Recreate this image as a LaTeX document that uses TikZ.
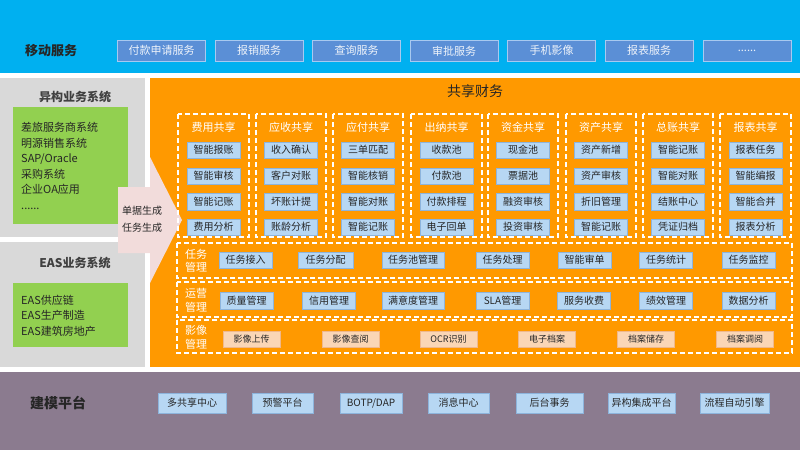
\documentclass[tikz,border=0pt]{standalone}
\usepackage{fontspec}
\setmainfont{Noto Sans CJK SC}
\definecolor{topblue}{HTML}{00B0F0}
\definecolor{svcblue}{HTML}{5B8FD6}
\definecolor{svcline}{HTML}{A8C9F0}
\definecolor{svctext}{HTML}{EEF3FA}
\definecolor{graybg}{HTML}{D9D9D9}
\definecolor{greenbg}{HTML}{92D050}
\definecolor{orangebg}{HTML}{FF9900}
\definecolor{pinkarrow}{HTML}{F2DCDB}
\definecolor{itemblue}{HTML}{B7D7F3}
\definecolor{itemline}{HTML}{8DB4DC}
\definecolor{peach}{HTML}{FAD6B6}
\definecolor{peachline}{HTML}{F0B88C}
\definecolor{purplebg}{HTML}{8B7B8F}
\definecolor{darktext}{HTML}{262626}
\begin{document}
\begin{tikzpicture}[x=1pt,y=-1pt,
   svc/.style={draw=svcline,fill=svcblue,text=svctext,line width=0.8pt,minimum width=88pt,minimum height=20.5pt,inner sep=1pt,font=\fontsize{11}{13}\selectfont},
   item/.style={draw=itemline,fill=itemblue,text=darktext,line width=0.4pt,minimum width=53pt,minimum height=16.5pt,inner sep=1pt,font=\fontsize{10}{12}\selectfont},
   img/.style={item,draw=peachline,fill=peach,minimum width=57pt,font=\fontsize{9}{11}\selectfont},
   base/.style={item,minimum height=20pt},
   dbox/.style={draw=white,dash pattern=on 5pt off 3pt,line width=1.2pt},
   coltitle/.style={text=white,font=\fontsize{11}{13}\selectfont},
   rowlab/.style={text=white,align=center,inner sep=0pt,font=\fontsize{11}{13.5}\selectfont},
   head/.style={text=darktext,font=\bfseries\fontsize{13}{15}\selectfont},
   sys/.style={text=darktext,align=left,anchor=west,inner sep=0pt,font=\fontsize{11}{15.6}\selectfont}]
   \useasboundingbox (0,0) rectangle (800,450);

   % backgrounds
   \fill[topblue] (0,0) rectangle (800,73);
   \fill[graybg] (0,78) rectangle (145,237);
   \fill[graybg] (0,242) rectangle (145,367);
   \fill[orangebg] (150,78) rectangle (800,367);
   \fill[purplebg] (0,372) rectangle (800,450);
   \fill[greenbg] (13,107) rectangle (128,224);
   \fill[greenbg] (13,283) rectangle (128,347);
   \fill[pinkarrow] (118,187) -- (150,187) -- (150,157) -- (182,220) -- (150,283) -- (150,253) -- (118,253) -- cycle;

   % mobile services
   \node[head] (M) at (51,51) {移动服务};
   \node[svc] (S1) at (161.5,50.8) {付款申请服务};
   \node[svc] (S2) at (259,50.8) {报销服务};
   \node[svc] (S3) at (356.5,50.8) {查询服务};
   \node[svc] (S4) at (454,50.8) {审批服务};
   \node[svc] (S5) at (551.5,50.8) {手机影像};
   \node[svc] (S6) at (649,50.8) {报表服务};
   \node[svc] (S7) at (747,50.8) {......};

   % left systems
   \node[head,text=black!75,font=\bfseries\fontsize{12}{14}\selectfont] (H) at (75,97) {异构业务系统};
   \node[sys] (HL) at (21,166) {差旅服务商系统\\明源销售系统\\SAP/Oracle\\采购系统\\企业OA应用\\......};
   \node[head,text=black!75,font=\bfseries\fontsize{12}{14}\selectfont] (E) at (75,263) {EAS业务系统};
   \node[sys] (EL) at (21,315.5) {EAS供应链\\EAS生产制造\\EAS建筑房地产};
   \node[text=darktext,align=center,font=\fontsize{10}{17}\selectfont] (G) at (142,219.5) {单据生成\\任务生成};

   % shared finance
   \node[text=darktext,font=\fontsize{14}{16}\selectfont] (F) at (475,91) {共享财务};
   \draw[dbox] (178,114) rectangle (249,237);
   \draw[dbox] (256,114) rectangle (326,237);
   \draw[dbox] (333,114) rectangle (403,237);
   \draw[dbox] (411,114) rectangle (482,237);
   \draw[dbox] (488,114) rectangle (558,237);
   \draw[dbox] (566,114) rectangle (636,237);
   \draw[dbox] (643,114) rectangle (713,237);
   \draw[dbox] (720,114) rectangle (791,237);

   \node[coltitle] (C1) at (213.5,127) {费用共享};
   \node[item] (C1a) at (213.5,150) {智能报账};
   \node[item] (C1b) at (213.5,176) {智能审核};
   \node[item] (C1c) at (213.5,201.5) {智能记账};
   \node[item] (C1d) at (213.5,227) {费用分析};

   \node[coltitle] (C2) at (291,127) {应收共享};
   \node[item] (C2a) at (291,150) {收入确认};
   \node[item] (C2b) at (291,176) {客户对账};
   \node[item] (C2c) at (291,201.5) {坏账计提};
   \node[item] (C2d) at (291,227) {账龄分析};

   \node[coltitle] (C3) at (368,127) {应付共享};
   \node[item] (C3a) at (368,150) {三单匹配};
   \node[item] (C3b) at (368,176) {智能核销};
   \node[item] (C3c) at (368,201.5) {智能对账};
   \node[item] (C3d) at (368,227) {智能记账};

   \node[coltitle] (C4) at (446.5,127) {出纳共享};
   \node[item] (C4a) at (446.5,150) {收款池};
   \node[item] (C4b) at (446.5,176) {付款池};
   \node[item] (C4c) at (446.5,201.5) {付款排程};
   \node[item] (C4d) at (446.5,227) {电子回单};

   \node[coltitle] (C5) at (523,127) {资金共享};
   \node[item] (C5a) at (523,150) {现金池};
   \node[item] (C5b) at (523,176) {票据池};
   \node[item] (C5c) at (523,201.5) {融资审核};
   \node[item] (C5d) at (523,227) {投资审核};

   \node[coltitle] (C6) at (601,127) {资产共享};
   \node[item] (C6a) at (601,150) {资产新增};
   \node[item] (C6b) at (601,176) {资产审核};
   \node[item] (C6c) at (601,201.5) {折旧管理};
   \node[item] (C6d) at (601,227) {智能记账};

   \node[coltitle] (C7) at (678,127) {总账共享};
   \node[item] (C7a) at (678,150) {智能记账};
   \node[item] (C7b) at (678,176) {智能对账};
   \node[item] (C7c) at (678,201.5) {结账中心};
   \node[item] (C7d) at (678,227) {凭证归档};

   \node[coltitle] (C8) at (755.5,127) {报表共享};
   \node[item] (C8a) at (755.5,150) {报表任务};
   \node[item] (C8b) at (755.5,176) {智能编报};
   \node[item] (C8c) at (755.5,201.5) {智能合并};
   \node[item] (C8d) at (755.5,227) {报表分析};

   % task row
   \draw[dbox] (177,243) rectangle (792,278);
   \node[rowlab] (T) at (196,261) {任务\\管理};
   \node[item] (T1) at (245.5,260) {任务接入};
   \node[item,minimum width=55pt] (T2) at (325.5,260) {任务分配};
   \node[item,minimum width=62pt] (T3) at (413,260) {任务池管理};
   \node[item] (T4) at (502.5,260) {任务处理};
   \node[item] (T5) at (584.5,260) {智能审单};
   \node[item] (T6) at (666,260) {任务统计};
   \node[item] (T7) at (748.5,260) {任务监控};

   % operation row
   \draw[dbox] (177,282) rectangle (792,317);
   \node[rowlab] (O) at (196,300.5) {运营\\管理};
   \node[item] (O1) at (246.5,300.5) {质量管理};
   \node[item] (O2) at (329,300.5) {信用管理};
   \node[item,minimum width=62pt] (O3) at (413,300.5) {满意度管理};
   \node[item] (O4) at (502.5,300.5) {SLA管理};
   \node[item] (O5) at (584,300.5) {服务收费};
   \node[item] (O6) at (666,300.5) {绩效管理};
   \node[item] (O7) at (748.5,300.5) {数据分析};

   % image row
   \draw[dbox] (177,320) rectangle (792,353);
   \node[rowlab] (I) at (196,337.5) {影像\\管理};
   \node[img] (I1) at (251.5,339) {影像上传};
   \node[img] (I2) at (350.5,339) {影像查阅};
   \node[img] (I3) at (448.5,339) {OCR识别};
   \node[img] (I4) at (547,339) {电子档案};
   \node[img] (I5) at (646,339) {档案储存};
   \node[img] (I6) at (745,339) {档案调阅};

   % modelling platform
   \node[head,font=\bfseries\fontsize{14}{16}\selectfont] (P) at (58,403) {建模平台};
   \node[base,minimum width=68pt] (P1) at (192,403) {多共享中心};
   \node[base,minimum width=61pt] (P2) at (282.5,403) {预警平台};
   \node[base,minimum width=62pt] (P3) at (371,403) {BOTP/DAP};
   \node[base,minimum width=61pt] (P4) at (458.5,403) {消息中心};
   \node[base,minimum width=67pt] (P5) at (549.5,403) {后台事务};
   \node[base,minimum width=67pt] (P6) at (641.5,403) {异构集成平台};
   \node[base,minimum width=69pt] (P7) at (734.5,403) {流程自动引擎};
 \end{tikzpicture}
\end{document}
